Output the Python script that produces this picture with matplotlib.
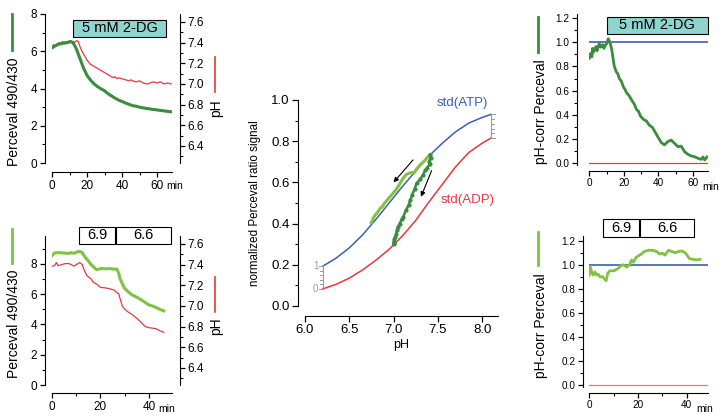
import matplotlib
matplotlib.use("Agg")
import matplotlib.pyplot as plt
from matplotlib.lines import Line2D
from matplotlib.patches import Rectangle
from matplotlib.ticker import MultipleLocator

plt.rcParams['font.family'] = ['Liberation Sans', 'DejaVu Sans']

# colours
DKGREEN = '#3a8c3e'
LTGREEN = '#80c241'
RED = '#e8383d'
BLUE = '#3c5fb0'
TEAL = '#8fd4cf'
GREY = '#9a9a9a'

# ---- top left: 5 mM 2-DG, raw ratio and pH
tl_t = [0, 2, 4, 6, 8, 10, 11, 12, 13, 14, 16, 18, 20, 22, 24, 26, 28, 30, 32, 34, 36,
        38, 40, 42, 44, 46, 48, 50, 52, 54, 56, 58, 60, 62, 64, 66, 68]
tl_ratio = [6.18, 6.3, 6.38, 6.42, 6.45, 6.5, 6.52, 6.45, 6.3, 6.1, 5.6, 5.1, 4.7, 4.45,
            4.25, 4.1, 3.98, 3.88, 3.72, 3.6, 3.48, 3.38, 3.3, 3.22, 3.15, 3.08, 3.05,
            3.0, 2.96, 2.93, 2.9, 2.87, 2.85, 2.82, 2.8, 2.77, 2.75]
tl_ph_t = [0, 1, 2, 3, 4, 5, 6, 7, 8, 9, 10, 11, 12, 13, 14, 15, 16, 17, 18, 19, 20, 21,
           22, 24, 26, 28, 30, 32, 34, 35, 36, 37, 38, 40, 42, 44, 45, 46, 48, 50, 52,
           54, 55, 56, 58, 60, 62, 64, 66, 68]
tl_ph = [7.36, 7.38, 7.37, 7.39, 7.40, 7.39, 7.41, 7.40, 7.41, 7.40, 7.42, 7.40, 7.41,
         7.40, 7.42, 7.41, 7.36, 7.32, 7.29, 7.26, 7.23, 7.21, 7.19, 7.17, 7.15, 7.13,
         7.11, 7.09, 7.07, 7.06, 7.07, 7.05, 7.06, 7.05, 7.04, 7.03, 7.04, 7.03, 7.02,
         7.03, 7.01, 7.0, 7.0, 7.01, 7.02, 7.01, 7.02, 7.0, 7.01, 7.0]

# ---- bottom left: pH clamp 6.9 / 6.6
bl_t = [0, 1, 3, 5, 7, 8, 9, 10, 11.4, 12.5, 13.4, 15, 16.2, 17.5, 18.5, 20, 22, 24, 25,
        26.7, 27.5, 28.1, 29.9, 31.5, 32.9, 35, 36.8, 38.5, 39.9, 41.5, 42.9, 44.5, 46.1]
bl_ratio = [8.55, 8.73, 8.75, 8.72, 8.7, 8.75, 8.7, 8.78, 8.84, 8.75, 8.5, 8.2, 7.95,
            7.75, 7.62, 7.7, 7.68, 7.7, 7.66, 7.67, 7.4, 7.0, 6.4, 6.15, 5.97, 5.8, 5.63,
            5.45, 5.3, 5.22, 5.13, 5.0, 4.9]
bl_ph_t = [0, 1, 1.8, 2.5, 4, 5.5, 7, 8, 9, 10, 11.4, 12.5, 13.4, 14.5, 16.2, 17, 18.5,
           20, 22, 24, 25.5, 26.7, 27.5, 28.1, 29, 29.9, 31.5, 32.9, 35, 36.8, 38.5,
           39.9, 41.5, 42.9, 44.5, 46.1]
bl_ph = [7.385, 7.39, 7.42, 7.39, 7.40, 7.41, 7.41, 7.40, 7.385, 7.40, 7.42, 7.40, 7.34,
         7.29, 7.26, 7.23, 7.21, 7.18, 7.175, 7.165, 7.155, 7.13, 7.12, 7.07, 7.0, 6.97,
         6.94, 6.92, 6.88, 6.84, 6.8, 6.79, 6.785, 6.78, 6.76, 6.745]

# ---- middle: standard curves and trajectories
std_ph = [6.2, 6.35, 6.5, 6.65, 6.8, 6.95, 7.1, 7.25, 7.4, 7.55, 7.7, 7.85, 8.0, 8.1]
std_atp = [0.193, 0.232, 0.282, 0.345, 0.42, 0.50, 0.58, 0.655, 0.728, 0.79, 0.845,
           0.888, 0.915, 0.93]
std_adp = [0.083, 0.105, 0.135, 0.175, 0.222, 0.275, 0.34, 0.415, 0.505, 0.59, 0.675,
           0.745, 0.79, 0.815]
clamp_ph = [6.75, 6.77, 6.79, 6.82, 6.85, 6.87, 6.90, 6.94, 6.98, 7.02, 7.06, 7.10, 7.13,
            7.15, 7.18, 7.21, 7.23, 7.26, 7.30, 7.35, 7.39, 7.42]
clamp_sig = [0.405, 0.425, 0.44, 0.455, 0.475, 0.48, 0.50, 0.52, 0.54, 0.56, 0.585, 0.615,
             0.632, 0.64, 0.645, 0.648, 0.645, 0.665, 0.685, 0.705, 0.725, 0.735]
dg_ph = [7.41, 7.42, 7.40, 7.41, 7.38, 7.36, 7.33, 7.30, 7.26, 7.24, 7.21, 7.19, 7.17,
         7.14, 7.11, 7.09, 7.07, 7.05, 7.04, 7.03, 7.02, 7.01, 7.00, 7.01, 7.00]
dg_sig = [0.735, 0.72, 0.70, 0.69, 0.67, 0.66, 0.635, 0.615, 0.596, 0.57, 0.54, 0.515, 0.49,
          0.465, 0.433, 0.42, 0.40, 0.385, 0.37, 0.35, 0.336, 0.325, 0.312, 0.305, 0.30]

# ---- top right: pH-corrected, 2-DG
tr_t = [0, 0.5, 1, 1.5, 1.9, 2.5, 3, 3.9, 4.5, 5, 5.8, 6.5, 7, 7.8, 8.5, 9, 10.1, 11, 12,
        13, 14.5, 15.5, 16.5, 17.4, 18.5, 19.8, 20.7, 21.7, 23, 24.6, 26, 27.5, 28.5,
        29.8, 31.8, 33, 34.7, 36.6, 38, 39.7, 41.7, 43.6, 45.5, 47.5, 49.4, 51.4, 53.3,
        55.2, 57.2, 59.1, 61, 63, 64.9, 65.9, 66.9, 68.2]
tr_val = [0.868, 0.9, 0.91, 0.88, 0.95, 0.92, 0.94, 0.965, 0.93, 0.96, 0.99, 0.96, 0.965,
          0.98, 0.95, 0.97, 0.99, 1.03, 1.0, 0.94, 0.80, 0.76, 0.74, 0.70, 0.68, 0.63,
          0.61, 0.58, 0.56, 0.52, 0.49, 0.44, 0.43, 0.385, 0.357, 0.35, 0.315, 0.295,
          0.26, 0.218, 0.17, 0.15, 0.177, 0.19, 0.163, 0.135, 0.14, 0.094, 0.072, 0.058,
          0.052, 0.039, 0.03, 0.05, 0.025, 0.05]

# ---- bottom right: pH-corrected, clamp
br_t = [0, 0.4, 1.0, 1.6, 2.3, 3.0, 3.7, 4.4, 5.5, 6.9, 7.6, 8.5, 10.2, 11.9, 12.9, 14,
        15.4, 16.5, 17.4, 18.1, 19.2, 20.6, 21.5, 22.5, 24.3, 26.1, 27.7, 28.8, 30.2,
        31.1, 32.5, 33.9, 35.3, 36.6, 38, 39.4, 41.2, 42.8, 43.9, 45.5]
br_val = [0.914, 0.98, 0.94, 0.914, 0.94, 0.914, 0.92, 0.90, 0.90, 0.867, 0.93, 0.95,
          0.95, 0.97, 0.99, 1.0, 0.98, 1.0, 1.04, 1.02, 1.06, 1.08, 1.09, 1.11, 1.12,
          1.12, 1.11, 1.09, 1.095, 1.08, 1.12, 1.11, 1.10, 1.11, 1.115, 1.10, 1.05,
          1.045, 1.04, 1.045]

W, H = 723, 417
fig = plt.figure(figsize=(W / 100, H / 100), dpi=100)


def rect(x0, y0, x1, y1):
    # pixel box (top-left origin) -> figure fraction
    return [x0 / W, 1 - y1 / H, (x1 - x0) / W, (y1 - y0) / H]


def px(x, y):
    return x / W, 1 - y / H


def style(ax, left_out, bottom_out, fs, major=3.5, minor=2):
    ax.spines['top'].set_visible(False)
    ax.spines['right'].set_visible(False)
    ax.spines['left'].set_position(('outward', left_out * 0.72))
    ax.spines['bottom'].set_position(('outward', bottom_out * 0.72))
    ax.tick_params(which='major', direction='out', length=major, width=0.9, labelsize=fs, pad=2)
    ax.tick_params(which='minor', direction='out', length=minor, width=0.8)


def twin_ph(ax, fs):
    ax2 = ax.twinx()
    for s in ('left', 'top', 'bottom'):
        ax2.spines[s].set_visible(False)
    ax2.spines['right'].set_position(('outward', 8 * 0.72))
    ax2.set_ylim(6.235, 7.677)
    ax2.yaxis.set_major_locator(MultipleLocator(0.2))
    ax2.yaxis.set_minor_locator(MultipleLocator(0.1))
    ax2.tick_params(which='major', direction='out', length=3.5, width=0.9, labelsize=fs, pad=2)
    ax2.tick_params(which='minor', direction='out', length=2, width=0.8)
    return ax2


def vbar(x, y0, y1, color, lw=2):
    fig.add_artist(Line2D([x / W, x / W], [1 - y0 / H, 1 - y1 / H], color=color, lw=lw))


def box(ax, x0, x1, y0, y1, text, face):
    ax.add_patch(Rectangle((x0, y0), x1 - x0, y1 - y0, facecolor=face, edgecolor='k',
                           lw=0.8, clip_on=False, zorder=5))
    ax.text((x0 + x1) / 2, (y0 + y1) / 2, text, ha='center', va='center', fontsize=10.5,
            zorder=6, clip_on=False)


# ---------------- top left
ax = fig.add_axes(rect(52, 14, 172, 163))
style(ax, 7, 9, 8.5)
ax2 = twin_ph(ax, 8.5)
ax.plot(tl_t, tl_ratio, color=DKGREEN, lw=2.2, zorder=3)
ax2.plot(tl_ph_t, tl_ph, color=RED, lw=0.9)
ax.set_xlim(0, 68.5)
ax.set_ylim(0, 8)
ax.xaxis.set_major_locator(MultipleLocator(20))
ax.xaxis.set_minor_locator(MultipleLocator(10))
ax.yaxis.set_major_locator(MultipleLocator(2))
ax.yaxis.set_minor_locator(MultipleLocator(1))
ax.set_zorder(ax2.get_zorder() + 1)
ax.patch.set_visible(False)
box(ax, 12, 65.1, 6.77, 7.68, '5 mM 2-DG', TEAL)

# ---------------- bottom left
ax = fig.add_axes(rect(52, 236, 172, 385))
style(ax, 7, 8, 8.5)
ax2 = twin_ph(ax, 8.5)
ax.plot(bl_t, bl_ratio, color=LTGREEN, lw=2.2, zorder=3)
ax2.plot(bl_ph_t, bl_ph, color=RED, lw=0.9)
ax.set_xlim(0, 49.5)
ax.set_ylim(0, 9.85)
ax.xaxis.set_major_locator(MultipleLocator(20))
ax.xaxis.set_minor_locator(MultipleLocator(10))
ax.yaxis.set_major_locator(MultipleLocator(2))
ax.yaxis.set_minor_locator(MultipleLocator(1))
ax.set_zorder(ax2.get_zorder() + 1)
ax.patch.set_visible(False)
box(ax, 11.1, 26.0, 9.32, 10.45, '6.9', 'white')
box(ax, 26.4, 49.1, 9.32, 10.45, '6.6', 'white')

# ---------------- middle
ax = fig.add_axes(rect(305, 100, 498, 306))
style(ax, 7, 10, 9.5, major=4, minor=2.5)
ax.plot(std_ph, std_atp, color=BLUE, lw=1.1)
ax.plot(std_ph, std_adp, color=RED, lw=1.1)
ax.plot(clamp_ph, clamp_sig, color=LTGREEN, lw=2.2)
ax.plot(dg_ph, dg_sig, color=DKGREEN, lw=1.8, marker='o', ms=2)
ax.set_xlim(6.0, 8.18)
ax.set_ylim(0, 1.0)
ax.xaxis.set_major_locator(MultipleLocator(0.5))
ax.yaxis.set_major_locator(MultipleLocator(0.2))
ax.yaxis.set_minor_locator(MultipleLocator(0.1))
ax.xaxis.set_major_formatter(matplotlib.ticker.FormatStrFormatter('%.1f'))
ax.yaxis.set_major_formatter(matplotlib.ticker.FormatStrFormatter('%.1f'))
ax.set_xlabel('pH', fontsize=9, labelpad=2)
ax.text(7.78, 0.985, 'std(ATP)', color=BLUE, fontsize=9.5, ha='center', va='center')
ax.text(7.84, 0.515, 'std(ADP)', color=RED, fontsize=9.5, ha='center', va='center')
arrow = dict(arrowstyle='-|>', color='k', lw=0.8, mutation_scale=7, shrinkA=0, shrinkB=0)
ax.annotate('', xy=(7.0, 0.60), xytext=(7.22, 0.709), arrowprops=arrow)
ax.annotate('', xy=(7.31, 0.53), xytext=(7.43, 0.657), arrowprops=arrow)
# small 0..1 scale bars between the standard curves
for xb, lo, hi, sgn, lab in ((std_ph[0], std_adp[0], std_atp[0], -1, True),
                             (std_ph[-1], std_adp[-1], std_atp[-1], 1, False)):
    ax.plot([xb, xb], [lo, hi], color=GREY, lw=0.8, clip_on=False)
    for k in range(6):
        yk = lo + (hi - lo) * k / 5
        ln = 0.045 if k in (0, 5) else 0.03
        ax.plot([xb, xb + sgn * ln], [yk, yk], color=GREY, lw=0.7, clip_on=False)
    if lab:
        ax.text(xb - 0.08, hi, '1', color=GREY, fontsize=7, ha='center', va='center')
        ax.text(xb - 0.08, lo, '0', color=GREY, fontsize=7, ha='center', va='center')
fig.text(*px(255, 203), 'normalized Perceval ratio signal', rotation=90, fontsize=8.4,
         ha='center', va='center')

# ---------------- top right
ax = fig.add_axes(rect(589.3, 14, 708.3, 164.8))
style(ax, 12, 6, 7.2)
ax.axhline(1.0, color=BLUE, lw=1.2)
ax.axhline(0.0, color=RED, lw=0.9)
ax.plot(tr_t, tr_val, color=DKGREEN, lw=2.0)
ax.set_xlim(0, 69)
ax.set_ylim(-0.015, 1.235)
ax.xaxis.set_major_locator(MultipleLocator(20))
ax.xaxis.set_minor_locator(MultipleLocator(10))
ax.yaxis.set_major_locator(MultipleLocator(0.2))
ax.yaxis.set_minor_locator(MultipleLocator(0.1))
ax.yaxis.set_major_formatter(matplotlib.ticker.FormatStrFormatter('%.1f'))
box(ax, 10.4, 68.6, 1.067, 1.213, '5 mM 2-DG', TEAL)

# ---------------- bottom right
ax = fig.add_axes(rect(589.3, 236, 708.3, 386.7))
style(ax, 6, 6, 7.2)
ax.axhline(1.0, color=BLUE, lw=1.2)
ax.axhline(0.0, color='#f07070', lw=0.9)
ax.plot(br_t, br_val, color=LTGREEN, lw=2.0)
ax.set_xlim(0, 48.9)
ax.set_ylim(-0.014, 1.239)
ax.xaxis.set_major_locator(MultipleLocator(20))
ax.xaxis.set_minor_locator(MultipleLocator(10))
ax.yaxis.set_major_locator(MultipleLocator(0.2))
ax.yaxis.set_minor_locator(MultipleLocator(0.1))
ax.yaxis.set_major_formatter(matplotlib.ticker.FormatStrFormatter('%.1f'))
box(ax, 5.75, 20.5, 1.228, 1.38, '6.9', 'white')
box(ax, 20.8, 43.1, 1.228, 1.38, '6.6', 'white')

# ---------------- axis titles with Origin-style line keys
for xl, yl, text, col in ((14, 111.5, 'Perceval 490/430', DKGREEN),
                          (14, 324, 'Perceval 490/430', LTGREEN),
                          (541, 111.5, 'pH-corr Perceval', DKGREEN),
                          (541, 326, 'pH-corr Perceval', LTGREEN)):
    fig.text(*px(xl, yl), text, rotation=90, fontsize=10, ha='center', va='center')
vbar(12.3, 14, 50, DKGREEN)
vbar(11.7, 229, 263, LTGREEN)
vbar(538, 17, 52, DKGREEN)
vbar(538.3, 232, 265, LTGREEN)
vbar(215, 57, 92, RED, lw=1.2)
vbar(215, 277, 312, RED, lw=1.2)
fig.text(*px(216, 108), 'pH', rotation=90, fontsize=10, ha='center', va='center')
fig.text(*px(216, 326), 'pH', rotation=90, fontsize=10, ha='center', va='center')

# "min" unit next to the last time tick
for xm, ym in ((175, 186), (166.5, 409), (711, 187), (705, 409)):
    fig.text(*px(xm, ym), 'min', fontsize=7.5, ha='center', va='center')

fig.savefig('out.png', dpi=100)
